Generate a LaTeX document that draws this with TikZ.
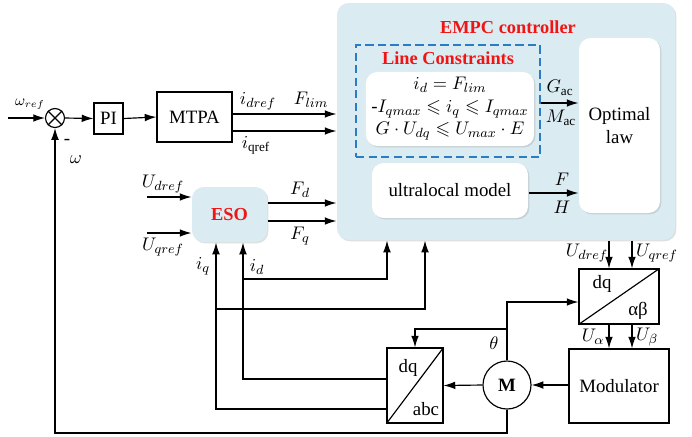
\documentclass[tikz,border=0pt]{standalone}
\usepackage{amsmath}
\usepackage{amssymb}
\usepackage{fontspec}
\setmainfont{Liberation Serif}
\usetikzlibrary{arrows.meta, shadows}
\definecolor{ctrlblue}{HTML}{DAEBF2}
\definecolor{dashblue}{HTML}{2A7DC2}
\definecolor{titlered}{HTML}{F01414}

\begin{document}
\begin{tikzpicture}[x=0.6pt, y=-0.6pt,
    font=\fontsize{11.3}{13.5}\selectfont,
    line width=0.7pt,
    arr/.style={-{Latex[length=7pt,width=4.6pt]}},
    block/.style={draw, rectangle, inner sep=0pt},
    softbox/.style={fill=ctrlblue, rounded corners=7pt,
        drop shadow={opacity=0.25, shadow xshift=0.8pt, shadow yshift=-0.8pt}},
    whitebox/.style={fill=white, rounded corners=7pt, align=center,
        drop shadow={opacity=0.25, shadow xshift=0.8pt, shadow yshift=-0.8pt}},
    title/.style={text=titlered, font=\fontsize{11}{13}\selectfont\bfseries}
]
  \useasboundingbox (0,0) rectangle (692,436);

  % EMPC controller
  \node[softbox, minimum width=202.8pt, minimum height=142.2pt] (EMPC) at (506,121.5) {};
  \node[title] (EMPCt) at (508,27) {EMPC controller};
  \node[draw=dashblue, dash pattern=on 5pt off 2.5pt, line width=0.8pt,
        minimum width=110.4pt, minimum height=67.2pt] (LC) at (448,101) {};
  \node[title] (LCt) at (448,58) {Line Constraints};
  \node[whitebox, minimum width=93.6pt, minimum height=43.2pt] (cons) at (450,109)
    {$i_d = F_{lim}$\\-$I_{qmax}\leqslant i_q\leqslant I_{qmax}$\\$G\cdot U_{dq}\leqslant U_{max}\cdot E$};
  \node[whitebox, minimum width=93.6pt, minimum height=33pt] (ultra) at (450,190.5) {ultralocal model};
  \node[whitebox, minimum width=48.6pt, minimum height=105pt] (opt) at (619.5,125.5) {Optimal\\law};

  \coordinate (gac) at (0,103);
  \coordinate (fh) at (0,193);
  \draw[arr] (LC.east |- gac) -- (opt.west |- gac);
  \draw[arr] (ultra.east |- fh) -- (opt.west |- fh);
  \node (gacl) at (560,88) {$G_{\mathrm{ac}}$};
  \node (macl) at (561,118) {$M_{\mathrm{ac}}$};
  \node (fl) at (562,179) {$F$};
  \node (hl) at (562,207) {$H$};

  % speed loop
  \node[draw, circle, minimum size=11.4pt, inner sep=0pt] (sum) at (55,118) {};
  \draw (sum.north west) -- (sum.south east) (sum.north east) -- (sum.south west);
  \node[block, minimum width=17.4pt, minimum height=18.6pt] (PI) at (108.5,118.5) {PI};
  \node[block, minimum width=45pt, minimum height=30pt] (MTPA) at (194.5,117) {MTPA};

  \coordinate (in0) at (8,118);
  \coordinate (idr) at (0,114);
  \coordinate (iqr) at (0,131);
  \draw[arr] (in0) -- (sum.west);
  \draw[arr] (sum.east) -- (PI.west);
  \draw[arr] (PI.east) -- (MTPA.west);
  \draw[arr] (MTPA.east |- idr) -- (EMPC.west |- idr);
  \draw[arr] (MTPA.east |- iqr) -- (EMPC.west |- iqr);
  \node[font=\fontsize{9}{10}\selectfont] (wrefl) at (30,104) {$\omega_{ref}$};
  \node (minus) at (67,142) {-};
  \node (wl) at (76,160) {$\omega$};
  \node (idrefl) at (258,101) {$i_{dref}$};
  \node (flim) at (311,100) {$F_{lim}$};
  \node (iqrefl) at (256,145) {$i_{\mathrm{qref}}$};

  % ESO
  \node[softbox, title, minimum width=45pt, minimum height=33pt] (ESO) at (229.5,214.5) {ESO};
  \coordinate (ud0) at (147,197);
  \coordinate (uq0) at (147,233);
  \coordinate (fd) at (0,203);
  \coordinate (fq) at (0,221);
  \draw[arr] (ud0) -- (ESO.west |- ud0);
  \draw[arr] (uq0) -- (ESO.west |- uq0);
  \draw[arr] (ESO.east |- fd) -- (EMPC.west |- fd);
  \draw[arr] (ESO.east |- fq) -- (EMPC.west |- fq);
  \node (udl) at (163,184) {$U_{dref}$};
  \node (uql) at (163,247) {$U_{qref}$};
  \node (fdl) at (300,190) {$F_d$};
  \node (fql) at (300,236) {$F_q$};

  % drive side
  \node[draw, circle, minimum size=28.8pt, inner sep=0pt, font=\fontsize{11.3}{13.5}\selectfont\bfseries] (M) at (507,385) {M};
  \node[block, minimum width=60pt, minimum height=44.4pt] (Mod) at (619,386) {Modulator};
  \node[block, minimum width=33.6pt, minimum height=45pt] (dqabc) at (415,385.5) {};
  \draw (dqabc.south west) -- (dqabc.north east);
  \node (dqt1) at (408,368) {dq};
  \node (abct) at (426,409) {abc};
  \node[block, minimum width=48pt, minimum height=33pt] (dqab) at (619,296.5) {};
  \draw (dqab.south west) -- (dqab.north east);
  \node (dqt2) at (602,284) {dq};
  \node (abt) at (638,311) {αβ};

  \draw[arr] (M.west) -- (dqabc.east);
  \draw[arr] (Mod.west |- M) -- (M.east);

  % current feedback
  \coordinate (idL) at (243,379);
  \coordinate (iqL) at (216,409);
  \coordinate (idj) at (243,279);
  \coordinate (idE) at (387,279);
  \coordinate (iqj) at (216,309);
  \coordinate (iqE) at (425,309);
  \draw[arr] (dqabc.west |- idL) -- (idL) -- (idL |- ESO.south);
  \draw[arr] (dqabc.west |- iqL) -- (iqL) -- (iqL |- ESO.south);
  \draw[arr] (idj) -- (idE) -- (idE |- EMPC.south);
  \draw[arr] (iqj) -- (iqE) -- (iqE |- EMPC.south);
  \node (iql) at (203,266) {$i_q$};
  \node (idl) at (257,267) {$i_d$};

  % angle
  \coordinate (thk) at (507,302);
  \coordinate (thj) at (507,329);
  \coordinate (thL) at (415,329);
  \draw[arr] (M.north) -- (thk) -- (dqab.west |- thk);
  \draw[arr] (thj) -- (thL) -- (thL |- dqabc.north);
  \node (thl) at (494,343) {$\theta$};

  % speed feedback
  \coordinate (fb) at (55,433);
  \draw[arr] (M.south) |- (fb) -- (sum.south);

  % voltage references
  \coordinate (ua) at (609,0);
  \coordinate (ub) at (632,0);
  \draw[arr] (EMPC.south -| ua) -- (dqab.north -| ua);
  \draw[arr] (EMPC.south -| ub) -- (dqab.north -| ub);
  \draw[arr] (dqab.south -| ua) -- (Mod.north -| ua);
  \draw[arr] (dqab.south -| ub) -- (Mod.north -| ub);
  \node (udrl) at (587,253) {$U_{dref}$};
  \node (uqrl) at (657,253) {$U_{qref}$};
  \node (ual) at (593,337) {$U_\alpha$};
  \node (ubl) at (647,337) {$U_\beta$};

\end{tikzpicture}
\end{document}
